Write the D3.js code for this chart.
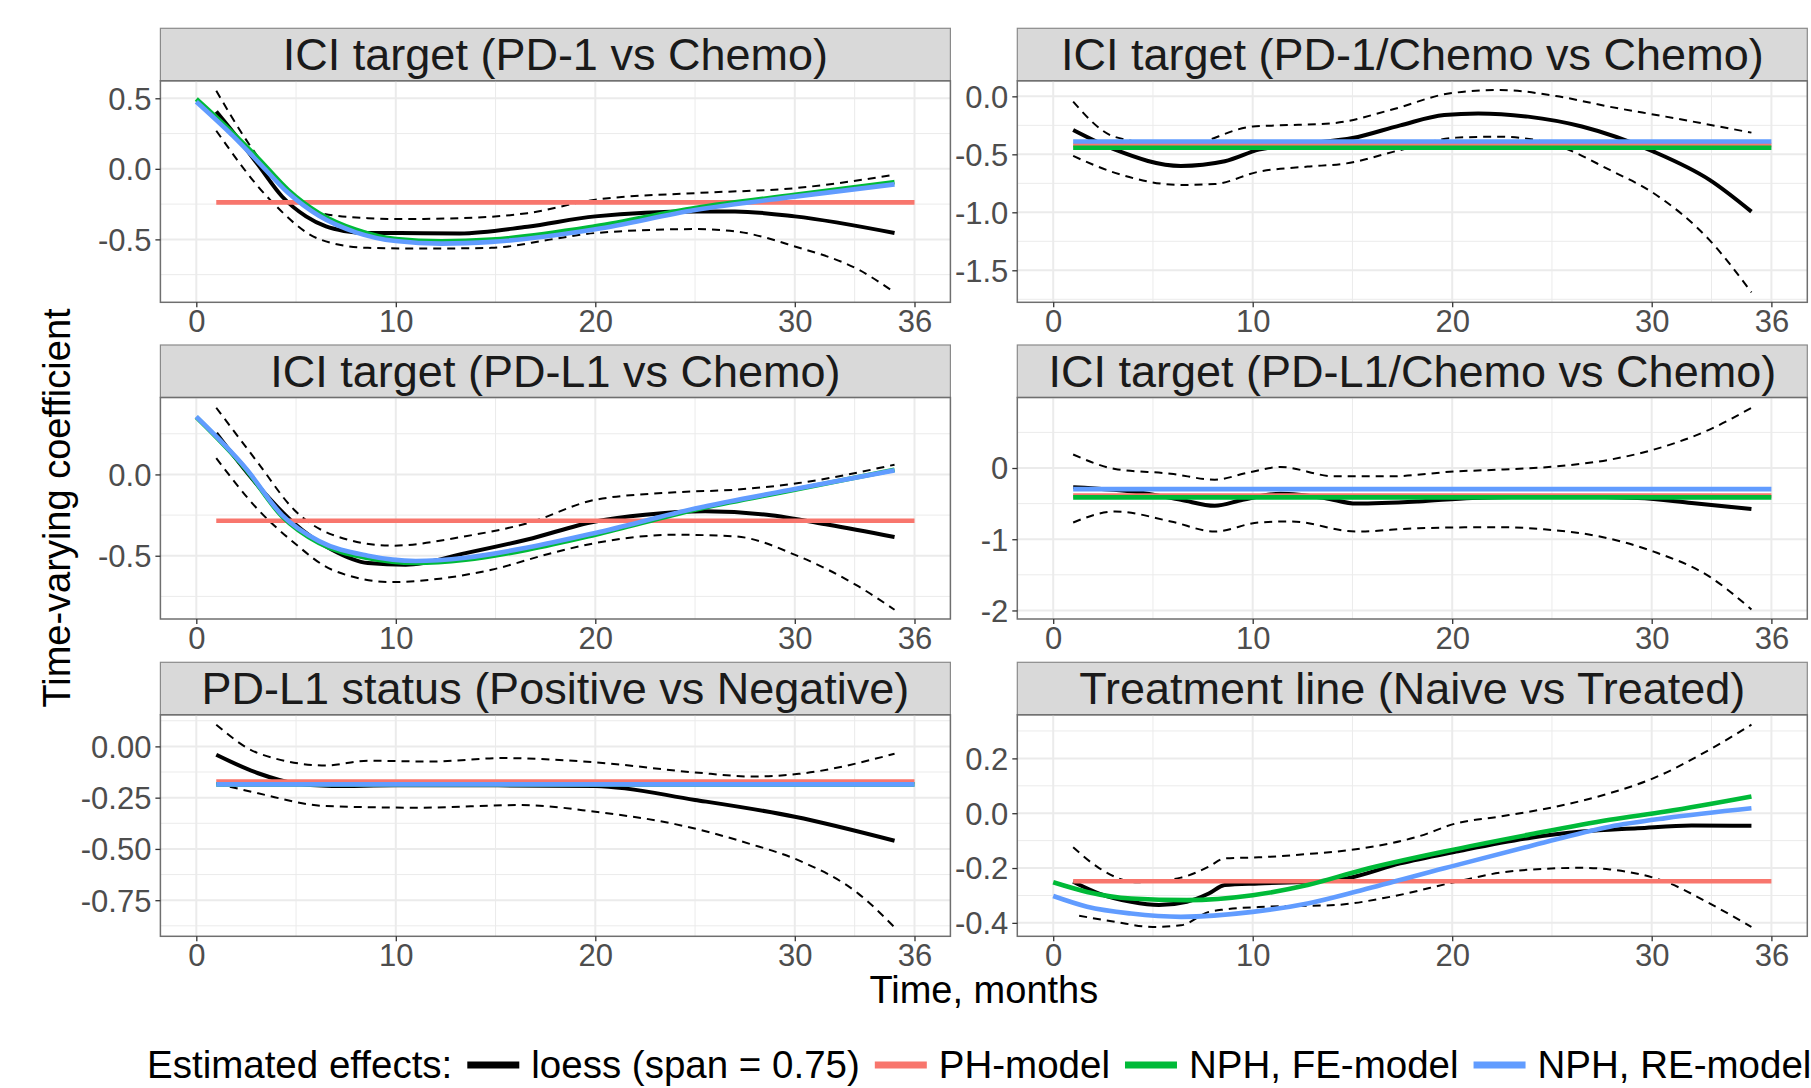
<!DOCTYPE html>
<html>
<head>
<meta charset="utf-8">
<script src="https://cdn.jsdelivr.net/npm/d3@7"></script>
<title>Time-varying coefficients</title>
<style>
  body { margin: 0; background: #fff; }
  svg text { font-family: Arial, "Liberation Sans", sans-serif; }
</style>
</head>
<body>
<script>
// ---- data ----
const panelTitles = [
  "ICI target (PD-1 vs Chemo)",
  "ICI target (PD-1/Chemo vs Chemo)",
  "ICI target (PD-L1 vs Chemo)",
  "ICI target (PD-L1/Chemo vs Chemo)",
  "PD-L1 status (Positive vs Negative)",
  "Treatment line (Naive vs Treated)"
];
const xTicks = [0, 10, 20, 30, 36];
const xMinor = [5, 15, 25, 33];
const yTicks = [
  [0.5, 0, -0.5], [0, -0.5, -1, -1.5], [0, -0.5],
  [0, -1, -2], [0, -0.25, -0.5, -0.75], [0.2, 0, -0.2, -0.4]
];
const yTickLabels = [
  ["0.5", "0.0", "-0.5"], ["0.0", "-0.5", "-1.0", "-1.5"], ["0.0", "-0.5"],
  ["0", "-1", "-2"], ["0.00", "-0.25", "-0.50", "-0.75"], ["0.2", "0.0", "-0.2", "-0.4"]
];
const yDomains = [[-0.946, 0.624], [-1.776, 0.134], [-0.889, 0.473],
                  [-2.12, 0.99], [-0.926, 0.154], [-0.449, 0.359]];

// loess estimate, [time, coefficient]
const loessFit = [
  [[1,0.406],[2.15,0.205],[3.1,0.028],[4.3,-0.196],[5.5,-0.337],[6.5,-0.408],[7.4,-0.44],[8.6,-0.455],[10,-0.455],[13.2,-0.458],[16.6,-0.41],[20,-0.337],[25,-0.302],[27,-0.302],[30,-0.337],[35,-0.455]],
  [[1,-0.29],[3.1,-0.46],[6.4,-0.6],[8.6,-0.56],[10.3,-0.46],[12.75,-0.405],[15,-0.36],[17.4,-0.25],[19.6,-0.16],[21.3,-0.147],[23.8,-0.175],[26.5,-0.26],[30.1,-0.477],[32.9,-0.72],[35,-0.994]],
  [[1,0.254],[3.1,-0.07],[4.9,-0.3],[6.8,-0.463],[8.6,-0.545],[10.5,-0.555],[13.5,-0.484],[16.6,-0.4],[20,-0.289],[22.5,-0.248],[25.5,-0.227],[28.6,-0.248],[31.7,-0.31],[35,-0.385]],
  [[1,-0.27],[4.5,-0.35],[6.4,-0.446],[8.1,-0.53],[9.5,-0.446],[11.4,-0.36],[13.6,-0.42],[15.2,-0.5],[18.3,-0.47],[21,-0.42],[25.2,-0.4],[29.3,-0.42],[32,-0.49],[35,-0.577]],
  [[1,-0.041],[3.1,-0.131],[4.9,-0.18],[6.8,-0.193],[10,-0.19],[15,-0.19],[20,-0.193],[25,-0.261],[30,-0.343],[35,-0.46]],
  [[1,-0.25],[2.3,-0.293],[3.9,-0.323],[5.3,-0.335],[6.7,-0.323],[7.8,-0.293],[8.6,-0.262],[10.3,-0.256],[12.75,-0.25],[14.7,-0.238],[17.4,-0.183],[20.2,-0.14],[23.8,-0.091],[26.5,-0.067],[29.3,-0.055],[32,-0.045],[35,-0.046]]
];
const loessUpper = [
  [[1,0.554],[2.5,0.205],[4.3,-0.125],[6.2,-0.314],[8.6,-0.35],[10,-0.356],[13.2,-0.35],[16.6,-0.314],[20,-0.219],[25,-0.172],[30,-0.137],[35,-0.042]],
  [[1,-0.046],[3.1,-0.35],[6.4,-0.43],[10,-0.26],[11.4,-0.25],[14.1,-0.23],[16.9,-0.118],[19.9,0.026],[22.4,0.055],[25.2,0.003],[27.9,-0.09],[30.7,-0.175],[35,-0.313]],
  [[1,0.41],[3.1,0.07],[4.9,-0.217],[6.8,-0.37],[9.8,-0.438],[13.5,-0.38],[16.6,-0.3],[20,-0.156],[24,-0.11],[27,-0.094],[30.2,-0.053],[35,0.06]],
  [[1,0.19],[3.1,-0.014],[5.9,-0.08],[8.1,-0.164],[9.7,-0.07],[11.4,0.014],[14.1,-0.117],[16.9,-0.117],[20.2,-0.047],[22.4,-0.023],[25.2,0.023],[27.9,0.117],[30.1,0.258],[32.9,0.54],[35,0.845]],
  [[1,0.106],[3.1,-0.033],[6.5,-0.093],[8.6,-0.07],[11.7,-0.074],[15.4,-0.057],[20,-0.078],[25,-0.127],[27.9,-0.147],[30.2,-0.134],[35,-0.036]],
  [[1,-0.124],[2.3,-0.2],[4.2,-0.252],[6.4,-0.235],[7.8,-0.195],[8.6,-0.165],[10.3,-0.161],[12.75,-0.149],[15.5,-0.128],[18.3,-0.085],[20.2,-0.037],[22.4,-0.012],[25.2,0.024],[27.9,0.073],[30.1,0.128],[32.9,0.232],[35,0.323]]
];
const loessLower = [
  [[1,0.27],[3.7,-0.22],[6.2,-0.5],[8.6,-0.56],[11.7,-0.565],[14.8,-0.56],[17.8,-0.5],[20,-0.455],[25,-0.427],[27,-0.443],[30,-0.55],[33.2,-0.715],[35,-0.875]],
  [[1,-0.514],[3.1,-0.66],[6.4,-0.764],[8.1,-0.756],[10.3,-0.65],[12.75,-0.606],[14.7,-0.578],[17.4,-0.463],[20.2,-0.356],[22.4,-0.348],[25.2,-0.42],[27.9,-0.635],[30.1,-0.836],[32.9,-1.24],[35,-1.69]],
  [[1,0.1],[3.1,-0.217],[4.9,-0.42],[6.8,-0.586],[9.8,-0.662],[11.7,-0.648],[14.8,-0.586],[17.8,-0.484],[20,-0.422],[24,-0.371],[27,-0.381],[30.2,-0.504],[33.2,-0.689],[35,-0.832]],
  [[1,-0.765],[3.1,-0.61],[5.9,-0.75],[8.1,-0.892],[10.3,-0.765],[11.9,-0.75],[15.2,-0.892],[18.3,-0.845],[22.4,-0.83],[24.6,-0.86],[27.4,-0.962],[30.1,-1.174],[32.9,-1.526],[35,-1.986]],
  [[1,-0.18],[3.1,-0.229],[6.5,-0.291],[11.1,-0.299],[16.3,-0.286],[20,-0.319],[24,-0.379],[27.7,-0.474],[30.2,-0.556],[33.2,-0.719],[35,-0.882]],
  [[1.3,-0.374],[3.1,-0.396],[5,-0.415],[6.4,-0.409],[7.8,-0.36],[8.6,-0.351],[10.8,-0.341],[14.1,-0.335],[16.9,-0.305],[20.2,-0.25],[22.4,-0.217],[25.2,-0.201],[26.5,-0.199],[27.9,-0.205],[30.7,-0.25],[32.9,-0.329],[35,-0.415]]
];
// PH-model: constant effect over months 1-36
const phEffect = [-0.238, -0.42, -0.285, -0.385, -0.172, -0.248];
// NPH fixed-effects model
const feFit = [
  [[0,0.495],[1.85,0.252],[3.1,0.075],[4.6,-0.149],[6.15,-0.314],[8,-0.432],[10,-0.498],[12.3,-0.514],[14.8,-0.502],[20,-0.408],[25,-0.278],[30,-0.184],[35,-0.094]],
  [[1,-0.443],[36,-0.443]],
  [[0,0.352],[2.5,0.029],[4.3,-0.258],[6.15,-0.422],[8.6,-0.514],[11,-0.545],[13.5,-0.525],[16.6,-0.463],[20,-0.371],[25,-0.217],[30,-0.094],[35,0.029]],
  [[1,-0.413],[36,-0.413]],
  [[1,-0.185],[36,-0.185]],
  [[0,-0.252],[1.7,-0.287],[3.9,-0.311],[6.7,-0.317],[10,-0.299],[12.75,-0.262],[15.5,-0.207],[19.6,-0.14],[23.8,-0.079],[27.9,-0.024],[30.7,0.006],[35,0.061]]
];
// NPH random-effects model
const reFit = [
  [[0,0.476],[1.85,0.232],[3.1,0.05],[4.6,-0.17],[6.15,-0.333],[8,-0.45],[10,-0.512],[12.3,-0.53],[14.8,-0.518],[20,-0.428],[25,-0.292],[30,-0.197],[35,-0.11]],
  [[1,-0.39],[36,-0.39]],
  [[0,0.355],[2.5,0.035],[4.3,-0.25],[6.15,-0.41],[8.6,-0.5],[11,-0.532],[13.5,-0.512],[16.6,-0.45],[20,-0.36],[25,-0.21],[30,-0.09],[35,0.025]],
  [[1,-0.296],[36,-0.296]],
  [[1,-0.185],[36,-0.185]],
  [[0,-0.302],[1.7,-0.341],[3.9,-0.366],[6.4,-0.378],[10,-0.36],[12.75,-0.329],[15.5,-0.28],[19.6,-0.201],[23.8,-0.122],[27.9,-0.049],[30.7,-0.018],[35,0.018]]
];
const legendLabels = ["loess (span = 0.75)", "PH-model", "NPH, FE-model", "NPH, RE-model"];
const seriesColors = ["#000000", "#F8766D", "#00BA38", "#619CFF"];

// ---- layout ----
const W = 1811, H = 1088;
const colLeft = [160.4, 1017.3], colWidth = 790;
const rowTop = [28.3, 345, 662.3], stripH = 52.5, plotH = 221.5;

const svg = d3.select("body").append("svg")
  .attr("width", W).attr("height", H)
  .attr("viewBox", [0, 0, W, H]);

const x = [0, 1].map(c => d3.scaleLinear().domain([-1.8, 37.8]).range([colLeft[c], colLeft[c] + colWidth]));

panelTitles.forEach((title, i) => {
  const col = i % 2, row = Math.floor(i / 2);
  const xs = x[col];
  const top = rowTop[row] + stripH, bottom = top + plotH;
  const y = d3.scaleLinear().domain(yDomains[i]).range([bottom, top]);
  const g = svg.append("g");
  const left = colLeft[col], right = left + colWidth;

  // strip
  g.append("rect").attr("x", left).attr("y", rowTop[row]).attr("width", colWidth).attr("height", stripH)
    .attr("fill", "#D9D9D9").attr("stroke", "#8a8a8a").attr("stroke-width", 1.2);
  g.append("text").attr("x", left + colWidth / 2).attr("y", rowTop[row] + stripH / 2 + 15.5)
    .attr("text-anchor", "middle").attr("font-size", 45).attr("fill", "#1A1A1A").text(title);

  // minor grid
  const tk = yTicks[i], step = Math.abs(tk[0] - tk[1]);
  const yMinor = [];
  for (let k = -1; k < tk.length; k++) {
    const v = tk[0] - step * (k + 0.5);
    if (v > yDomains[i][0] && v < yDomains[i][1]) yMinor.push(v);
  }
  g.selectAll(".ymin").data(yMinor).join("line")
    .attr("x1", left).attr("x2", right).attr("y1", d => y(d)).attr("y2", d => y(d))
    .attr("stroke", "#EBEBEB").attr("stroke-width", 1);
  g.selectAll(".xmin").data(xMinor).join("line")
    .attr("x1", d => xs(d)).attr("x2", d => xs(d)).attr("y1", top).attr("y2", bottom)
    .attr("stroke", "#EBEBEB").attr("stroke-width", 1);
  // major grid
  g.selectAll(".ymaj").data(tk).join("line")
    .attr("x1", left).attr("x2", right).attr("y1", d => y(d)).attr("y2", d => y(d))
    .attr("stroke", "#EBEBEB").attr("stroke-width", 2);
  g.selectAll(".xmaj").data(xTicks).join("line")
    .attr("x1", d => xs(d)).attr("x2", d => xs(d)).attr("y1", top).attr("y2", bottom)
    .attr("stroke", "#EBEBEB").attr("stroke-width", 2);

  const line = d3.line().x(d => xs(d[0])).y(d => y(d[1])).curve(d3.curveMonotoneX);

  [loessUpper[i], loessLower[i]].forEach(s => {
    g.append("path").attr("d", line(s)).attr("fill", "none")
      .attr("stroke", "#000").attr("stroke-width", 2).attr("stroke-dasharray", "8,6");
  });
  g.append("path").attr("d", line(loessFit[i])).attr("fill", "none")
    .attr("stroke", seriesColors[0]).attr("stroke-width", 4);
  g.append("path").attr("d", line([[1, phEffect[i]], [36, phEffect[i]]])).attr("fill", "none")
    .attr("stroke", seriesColors[1]).attr("stroke-width", 4.6);
  g.append("path").attr("d", line(feFit[i])).attr("fill", "none")
    .attr("stroke", seriesColors[2]).attr("stroke-width", 4.6);
  g.append("path").attr("d", line(reFit[i])).attr("fill", "none")
    .attr("stroke", seriesColors[3]).attr("stroke-width", 4.6);

  // panel border
  g.append("rect").attr("x", left).attr("y", top).attr("width", colWidth).attr("height", plotH)
    .attr("fill", "none").attr("stroke", "#6f6f6f").attr("stroke-width", 1.5);

  // axes
  const xAxis = g.append("g").attr("transform", `translate(0,${bottom})`)
    .call(d3.axisBottom(xs).tickValues(xTicks).tickSize(5).tickPadding(1));
  const yAxis = g.append("g").attr("transform", `translate(${left},0)`)
    .call(d3.axisLeft(y).tickValues(tk).tickFormat((d, j) => yTickLabels[i][j]).tickSize(5).tickPadding(4));
  [xAxis, yAxis].forEach(a => {
    a.select(".domain").remove();
    a.selectAll(".tick line").attr("stroke", "#333").attr("stroke-width", 1.3);
    a.selectAll(".tick text").attr("font-size", 31).attr("fill", "#4D4D4D")
      .attr("font-family", "Arial, 'Liberation Sans', sans-serif");
  });
  xAxis.selectAll(".tick text").attr("dy", "0.78em");
  yAxis.selectAll(".tick text").attr("dy", "0.35em");
});

// axis titles
svg.append("text").attr("x", (colLeft[0] + colLeft[1] + colWidth) / 2).attr("y", 1003)
  .attr("text-anchor", "middle").attr("font-size", 38).attr("fill", "#000").text("Time, months");
svg.append("text").attr("transform", "translate(70,508) rotate(-90)")
  .attr("text-anchor", "middle").attr("font-size", 38).attr("fill", "#000").text("Time-varying coefficient");

// legend (runs past the right edge, as in the original)
const leg = svg.append("g");
const legTitle = leg.append("text").attr("x", 147).attr("y", 1078).attr("font-size", 38.5)
  .attr("fill", "#000").text("Estimated effects:");
let cx = 147 + legTitle.node().getComputedTextLength() + 15;
legendLabels.forEach((lab, k) => {
  leg.append("line").attr("x1", cx).attr("x2", cx + 52).attr("y1", 1065).attr("y2", 1065)
    .attr("stroke", seriesColors[k]).attr("stroke-width", 7);
  const t = leg.append("text").attr("x", cx + 64).attr("y", 1078).attr("font-size", 38.5)
    .attr("fill", "#000").text(lab);
  cx = cx + 64 + t.node().getComputedTextLength() + 15;
});
</script>
</body>
</html>
